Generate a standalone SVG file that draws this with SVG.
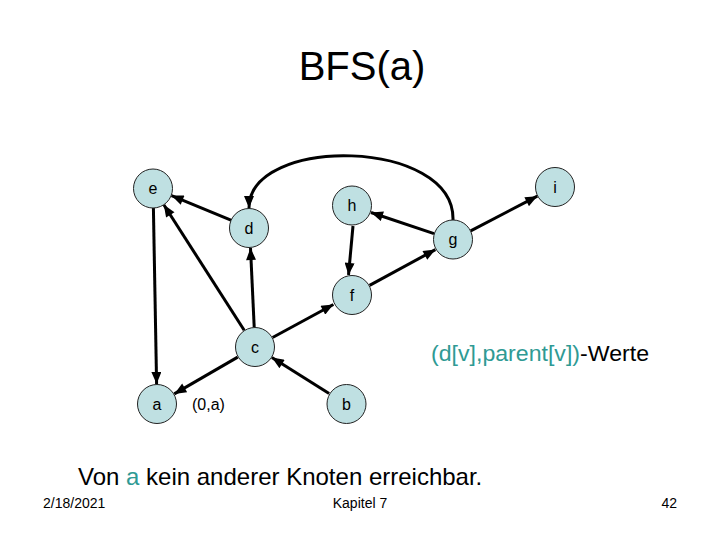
<svg xmlns="http://www.w3.org/2000/svg" width="720" height="540" viewBox="0 0 720 540">
<defs>
<style>
.node circle{fill:#bfe0e2;stroke:#222;stroke-width:1}
.node text{font-family:"Liberation Sans",Arial,sans-serif;font-size:16px;fill:#000;text-anchor:middle}
.edge{stroke:#000;stroke-width:3;fill:none;marker-end:url(#arr)}
.txt{font-family:"Liberation Sans",Arial,sans-serif;fill:#000}
.teal{fill:#2f9a94}
</style>
<marker id="arr" viewBox="0 0 12 10" refX="12" refY="5" markerWidth="13" markerHeight="10" markerUnits="userSpaceOnUse" orient="auto">
<path d="M0,0 L12,5 L0,10 Z" fill="#000"/>
</marker>
</defs>
<rect width="720" height="540" fill="#fff"/>
<text class="txt" x="362" y="80" font-size="40" text-anchor="middle">BFS(a)</text>
<g id="connectors">
<line class="edge" x1="231.5" y1="220.4" x2="171.5" y2="195.6"/>
<line class="edge" x1="244.2" y1="330.2" x2="163.8" y2="204.8"/>
<line class="edge" x1="153.4" y1="208" x2="156.6" y2="384"/>
<line class="edge" x1="254.2" y1="327" x2="250.5" y2="248"/>
<line class="edge" x1="237.7" y1="357.1" x2="174.3" y2="393.9"/>
<line class="edge" x1="329.1" y1="393.4" x2="271.9" y2="357.6"/>
<line class="edge" x1="272.6" y1="337.5" x2="333.4" y2="304.5"/>
<line class="edge" x1="353" y1="226" x2="348.5" y2="275"/>
<line class="edge" x1="369.6" y1="285.4" x2="435.4" y2="249.6"/>
<line class="edge" x1="434" y1="233.7" x2="371" y2="212.5"/>
<line class="edge" x1="470.7" y1="230.8" x2="537.3" y2="196.2"/>
<path class="edge" d="M453,220 C455,138 249,135 249,208"/>
</g>
<g id="node-e" class="node"><circle cx="153" cy="188.5" r="19.5"/><text x="153" y="194">e</text></g>
<g id="node-d" class="node"><circle cx="249" cy="228" r="19.5"/><text x="249" y="233.5">d</text></g>
<g id="node-h" class="node"><circle cx="352" cy="205.5" r="19.5"/><text x="352" y="211">h</text></g>
<g id="node-g" class="node"><circle cx="453" cy="239.5" r="19.5"/><text x="453" y="245">g</text></g>
<g id="node-i" class="node"><circle cx="555" cy="187" r="19.5"/><text x="555" y="192.5">i</text></g>
<g id="node-f" class="node"><circle cx="352" cy="295" r="19.5"/><text x="352" y="300.5">f</text></g>
<g id="node-c" class="node"><circle cx="255" cy="347" r="19.5"/><text x="255" y="352.5">c</text></g>
<g id="node-a" class="node"><circle cx="157" cy="404" r="19.5"/><text x="157" y="409.5">a</text></g>
<g id="node-b" class="node"><circle cx="346.5" cy="404" r="19.5"/><text x="346.5" y="409.5">b</text></g>
<text class="txt" x="192" y="410" font-size="16">(0,a)</text>
<text class="txt" x="431" y="361" font-size="22" textLength="218" lengthAdjust="spacingAndGlyphs"><tspan class="teal">(d[v],parent[v])</tspan>-Werte</text>
<text class="txt" x="78" y="485" font-size="24">Von <tspan class="teal">a</tspan> kein anderer Knoten erreichbar.</text>
<text class="txt" x="43" y="508" font-size="14">2/18/2021</text>
<text class="txt" x="360" y="508" font-size="14" text-anchor="middle">Kapitel 7</text>
<text class="txt" x="677" y="508" font-size="14" text-anchor="end">42</text>
</svg>
